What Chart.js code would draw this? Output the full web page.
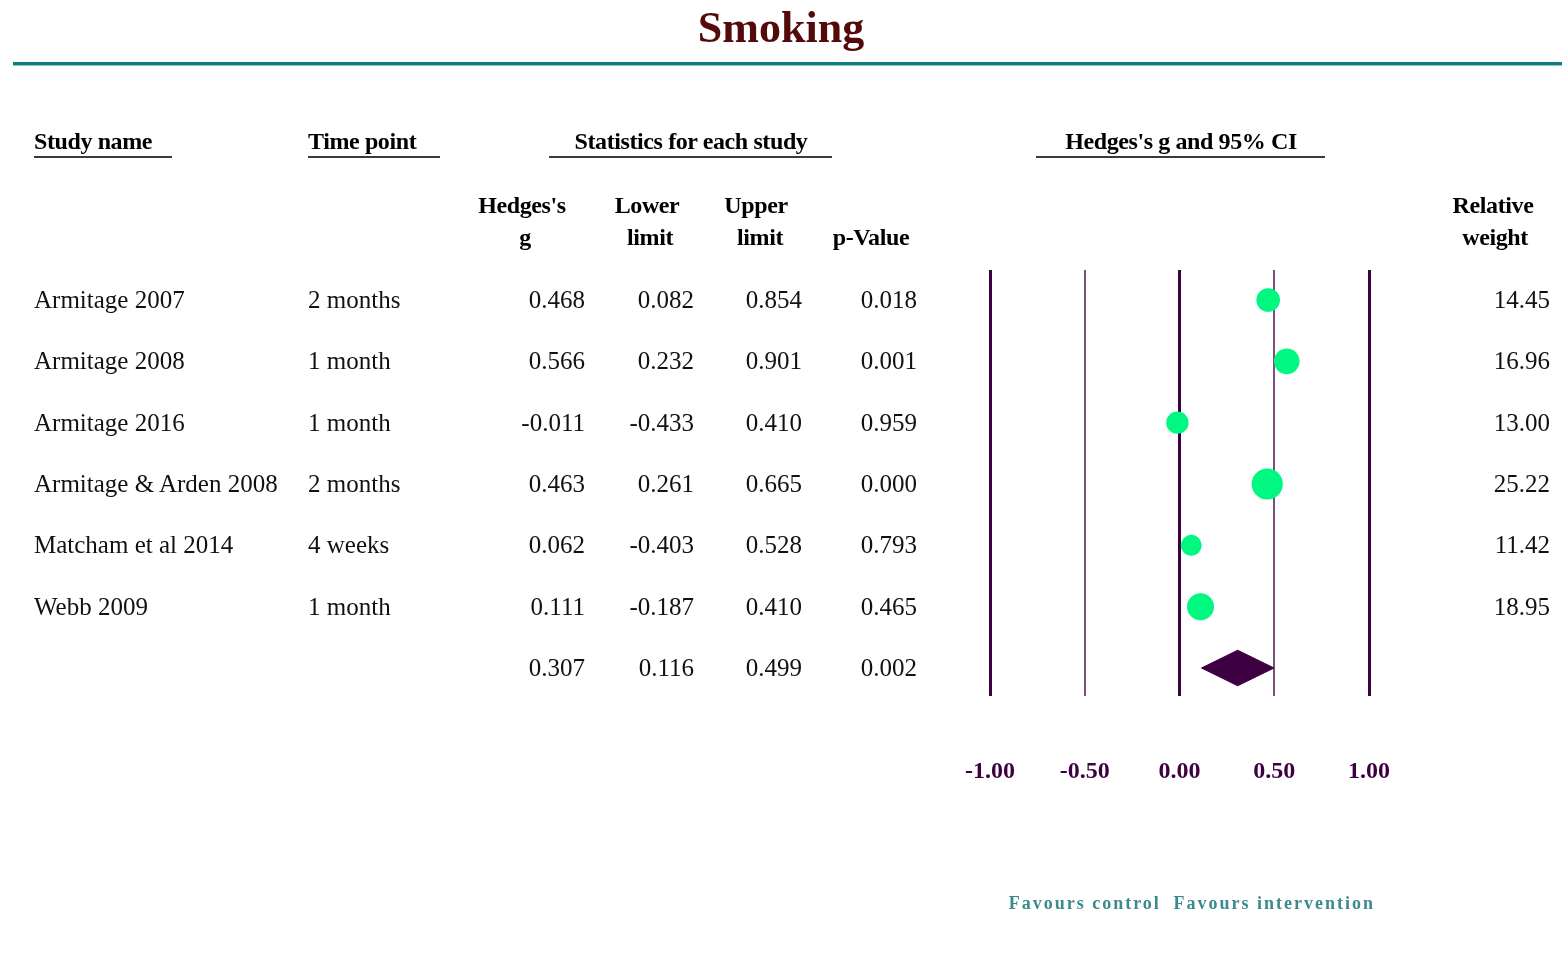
<!DOCTYPE html>
<html>
<head>
<meta charset="utf-8">
<script src="https://cdn.jsdelivr.net/npm/chart.js@4.4.1/dist/chart.umd.min.js"></script>
<style>
  html, body { margin: 0; padding: 0; background: #fff; }
  #wrap { position: relative; width: 1562px; height: 968px; overflow: hidden; font-family: "Liberation Serif", "Times New Roman", serif; }
  #plot { position: absolute; left: 0; top: 0; }
  .t { position: absolute; white-space: nowrap; line-height: 30px; height: 30px; color: #111; font-size: 25px; }
  .hd { font-weight: bold; font-size: 24px; color: #000; letter-spacing: -0.4px; }
  .title { position: absolute; left: 0; width: 1562px; top: 2px; text-align: center; font-weight: bold; font-size: 44px; color: #540a0a; line-height: 52px; }
  .rule { position: absolute; left: 13px; top: 62px; width: 1549px; height: 3px; background: #127c7a; border-bottom: 1px solid #86cccc; }
  .uline { position: absolute; height: 2px; background: #3a3a3a; }
  .fav { position: absolute; font-weight: bold; font-size: 18px; letter-spacing: 2px; color: #3c8a8a; line-height: 24px; white-space: nowrap; transform: translateX(-50%); }
</style>
</head>
<body>
<div id="wrap">
  <canvas id="plot" width="1562" height="968"></canvas>
  <div class="title">Smoking</div>
  <div class="rule"></div>
</div>
<script>
// Study-level results (Hedges's g with 95% CI)
const studyNames = ["Armitage 2007", "Armitage 2008", "Armitage 2016", "Armitage & Arden 2008", "Matcham et al 2014", "Webb 2009"];
const timePoints = ["2 months", "1 month", "1 month", "2 months", "4 weeks", "1 month"];
const hedgesG = [0.468, 0.566, -0.011, 0.463, 0.062, 0.111];
const lowerLimits = [0.082, 0.232, -0.433, 0.261, -0.403, -0.187];
const upperLimits = [0.854, 0.901, 0.410, 0.665, 0.528, 0.410];
const pValues = [0.018, 0.001, 0.959, 0.000, 0.793, 0.465];
const relativeWeights = [14.45, 16.96, 13.00, 25.22, 11.42, 18.95];

// Pooled estimate
const pooledG = 0.307;
const pooledLower = 0.116;
const pooledUpper = 0.499;
const pooledP = 0.002;

// Axis ticks
const xTicks = [-1.0, -0.5, 0.0, 0.5, 1.0];
const favourLabels = ["Favours control", "Favours intervention"];

const DARK = "#3d0040";
const SOFT = "#7d4f7d";
const DOT = "#00f880";
const DIAMOND_HALF = 0.29;   // half-height of the summary diamond, in row units
const pooledRow = studyNames.length;

const studyPoints = hedgesG.map((g, i) => ({ x: g, y: i }));
const diamond = [
  { x: pooledLower, y: pooledRow },
  { x: pooledG, y: pooledRow - DIAMOND_HALF },
  { x: pooledUpper, y: pooledRow },
  { x: pooledG, y: pooledRow + DIAMOND_HALF },
  { x: pooledLower, y: pooledRow }
];

const chart = new Chart(document.getElementById("plot"), {
  type: "scatter",
  data: {
    datasets: [
      {
        label: "Studies",
        data: studyPoints,
        backgroundColor: DOT,
        borderWidth: 0,
        pointRadius: ctx => 3.1 * Math.sqrt(relativeWeights[ctx.dataIndex]),
        pointHoverRadius: ctx => 3.1 * Math.sqrt(relativeWeights[ctx.dataIndex])
      },
      {
        label: "Pooled",
        type: "line",
        data: diamond,
        showLine: true,
        fill: "shape",
        backgroundColor: DARK,
        borderColor: DARK,
        borderWidth: 1,
        pointRadius: 0,
        tension: 0
      }
    ]
  },
  options: {
    responsive: false,
    animation: false,
    events: [],
    layout: { padding: { left: 990, right: 193, top: 270, bottom: 121 } },
    plugins: { legend: { display: false }, tooltip: { enabled: false }, title: { display: false } },
    scales: {
      x: {
        type: "linear",
        min: xTicks[0],
        max: xTicks[xTicks.length - 1],
        afterBuildTicks: scale => { scale.ticks = xTicks.map(v => ({ value: v })); },
        border: { display: false },
        grid: {
          drawTicks: false,
          color: ctx => (Math.abs(ctx.tick.value % 1) < 1e-9 ? DARK : SOFT),
          lineWidth: ctx => (Math.abs(ctx.tick.value % 1) < 1e-9 ? 3 : 2)
        },
        ticks: {
          padding: 61,
          color: DARK,
          maxRotation: 0,
          font: { family: "'Liberation Serif', serif", size: 24, weight: "bold" },
          callback: v => Number(v).toFixed(2)
        }
      },
      y: {
        type: "linear",
        display: false,
        reverse: true,
        min: -0.49,
        max: pooledRow + 0.46
      }
    }
  }
});

// Table text laid out against the chart's own row scale
const wrap = document.getElementById("wrap");
const yS = chart.scales.y;
const xS = chart.scales.x;

function put(text, x, y, align, cls) {
  const d = document.createElement("div");
  d.className = "t" + (cls ? " " + cls : "");
  d.textContent = text;
  d.style.top = (y - 15) + "px";
  if (align === "right") d.style.right = (1562 - x) + "px";
  else if (align === "center") { d.style.left = x + "px"; d.style.transform = "translateX(-50%)"; }
  else d.style.left = x + "px";
  wrap.appendChild(d);
}
function uline(x1, x2, y) {
  const d = document.createElement("div");
  d.className = "uline";
  d.style.left = x1 + "px"; d.style.width = (x2 - x1) + "px"; d.style.top = y + "px";
  wrap.appendChild(d);
}

// Group headers
put("Study name", 34, 141, "left", "hd");
put("Time point", 308, 141, "left", "hd");
put("Statistics for each study", 691, 141, "center", "hd");
put("Hedges's g and 95% CI", 1181, 141, "center", "hd");
uline(34, 172, 156);
uline(308, 440, 156);
uline(549, 832, 156);
uline(1036, 1325, 156);

// Column headers
put("Hedges's", 522, 205, "center", "hd");
put("g", 525, 237, "center", "hd");
put("Lower", 647, 205, "center", "hd");
put("limit", 650, 237, "center", "hd");
put("Upper", 756, 205, "center", "hd");
put("limit", 760, 237, "center", "hd");
put("p-Value", 871, 237, "center", "hd");
put("Relative", 1493, 205, "center", "hd");
put("weight", 1495, 237, "center", "hd");

// Study rows
studyNames.forEach((name, i) => {
  const y = yS.getPixelForValue(i);
  put(name, 34, y, "left");
  put(timePoints[i], 308, y, "left");
  put(hedgesG[i].toFixed(3), 585, y, "right");
  put(lowerLimits[i].toFixed(3), 694, y, "right");
  put(upperLimits[i].toFixed(3), 802, y, "right");
  put(pValues[i].toFixed(3), 917, y, "right");
  put(relativeWeights[i].toFixed(2), 1550, y, "right");
});

// Pooled row
const py = yS.getPixelForValue(pooledRow);
put(pooledG.toFixed(3), 585, py, "right");
put(pooledLower.toFixed(3), 694, py, "right");
put(pooledUpper.toFixed(3), 802, py, "right");
put(pooledP.toFixed(3), 917, py, "right");

// Direction labels centred on each half of the axis
[-0.5, 0.5].forEach((v, i) => {
  const d = document.createElement("div");
  d.className = "fav";
  d.textContent = favourLabels[i];
  d.style.left = xS.getPixelForValue(v) + "px";
  d.style.top = "891px";
  wrap.appendChild(d);
});
</script>
</body>
</html>
